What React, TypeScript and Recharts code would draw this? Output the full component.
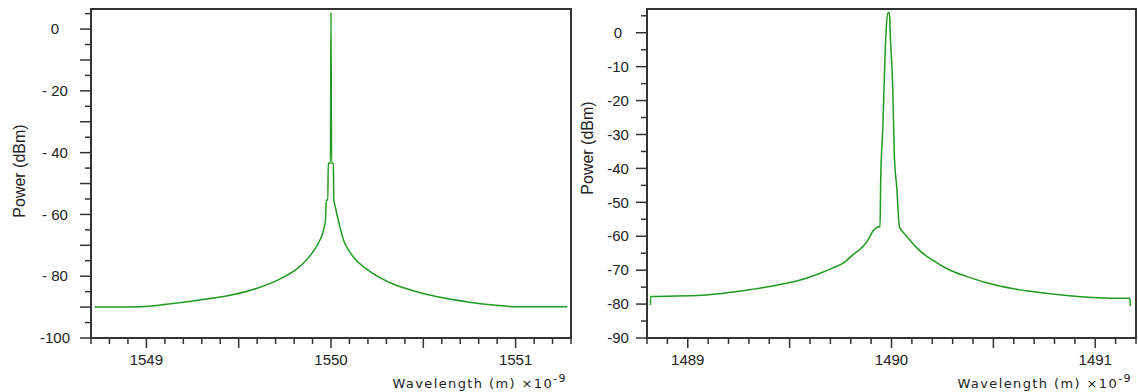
import * as React from "react";
import { LineChart, Line, XAxis, YAxis, ReferenceArea } from "recharts";

// Left spectrum (1550 nm)
const leftWavelength = [
  1548.72, 1548.85, 1548.97, 1549.11, 1549.28, 1549.46, 1549.6, 1549.73,
  1549.82, 1549.89, 1549.94, 1549.96, 1549.97, 1549.975, 1549.983, 1549.985,
  1549.997, 1550.0, 1550.003, 1550.013, 1550.015, 1550.025, 1550.04, 1550.07,
  1550.085, 1550.12, 1550.175, 1550.21, 1550.27, 1550.34, 1550.44, 1550.57,
  1550.75, 1550.88, 1551.0, 1551.28,
];
const leftPower = [
  -90.0, -90.0, -89.9, -89.1, -87.8, -86.1, -83.9, -80.7,
  -77.4, -73.1, -68.3, -65.0, -61.8, -55.3, -55.3, -43.4,
  -43.4, 5.4, -43.4, -43.4, -55.0, -58.0, -62.0, -68.6,
  -70.5, -73.7, -76.9, -78.4, -80.6, -82.6, -84.6, -86.6,
  -88.4, -89.3, -89.9, -89.9,
];

// Right spectrum (1490 nm)
const rightWavelength = [
  1488.817, 1488.818, 1489.07, 1489.31, 1489.49, 1489.57, 1489.65, 1489.71,
  1489.77, 1489.81, 1489.85, 1489.88, 1489.91, 1489.94, 1489.944, 1489.947,
  1489.958, 1489.968, 1489.982, 1489.99, 1489.993, 1490.006, 1490.014, 1490.026,
  1490.039, 1490.06, 1490.09, 1490.13, 1490.2, 1490.28, 1490.37, 1490.53,
  1490.69, 1490.86, 1491.08, 1491.17, 1491.172,
];
const rightPower = [
  -80.3, -77.8, -77.4, -75.7, -73.8, -72.6, -70.9, -69.4,
  -67.6, -65.5, -63.6, -61.6, -58.4, -57.2, -57.2, -43.4,
  -27.1, -7.0, 5.8, 6.0, 0.9, -16.3, -36.0, -45.8,
  -57.2, -59.0, -61.1, -63.8, -67.0, -69.8, -71.9, -74.7,
  -76.3, -77.5, -78.3, -78.3, -80.6,
];

const leftXDomain: [number, number] = [1548.7, 1551.3];
const leftYDomain: [number, number] = [-100, 6.5];
const rightXDomain: [number, number] = [1488.8, 1491.2];
const rightYDomain: [number, number] = [-90, 7];

const leftXLabels = [1549, 1550, 1551];
const rightXLabels = [1489, 1490, 1491];
const leftYLabels = [0, -20, -40, -60, -80, -100];
const rightYLabels = [0, -10, -20, -30, -40, -50, -60, -70, -80, -90];

const FONT = "'Liberation Sans', Arial, sans-serif";
const AXIS = "#333";
const GREEN = "#1f9a1f";

// tick positions (minor ticks every step)
const steps = (from: number, to: number, step: number) => {
  const out: number[] = [];
  const n = Math.round((to - from) / step);
  for (let i = 0; i <= n; i++) out.push(Math.round((from + i * step) * 1000) / 1000);
  return out;
};

const near = (a: number, b: number) => Math.abs(a - b) < 1e-6;

const makeXTick = (labels: number[]) => (props: any) => {
  const { x, y, payload } = props;
  const v = payload.value;
  const long = near(v * 2, Math.round(v * 2));
  const labeled = labels.some((l) => near(l, v));
  return (
    <g>
      <line x1={x} x2={x} y1={y} y2={y + (long ? 10 : 6)} stroke={AXIS} strokeWidth={1.5} />
      {labeled && (
        <text x={x} y={y + 27} textAnchor="middle" fontSize={15} fontFamily={FONT} fill="#222">
          {v}
        </text>
      )}
    </g>
  );
};

const makeYTick = (labels: number[], longEvery: number, labelX: number, fmt: (v: number) => string) =>
  (props: any) => {
    const { x, y, payload } = props;
    const v = payload.value;
    const long = near(v / longEvery, Math.round(v / longEvery));
    const labeled = labels.some((l) => near(l, v));
    return (
      <g>
        <line x1={x - (long ? 11 : 6)} x2={x} y1={y} y2={y} stroke={AXIS} strokeWidth={1.5} />
        {labeled && (
          <text x={x - labelX} y={y} dy="0.35em" textAnchor="middle" fontSize={15} fontFamily={FONT} fill="#222">
            {fmt(v)}
          </text>
        )}
      </g>
    );
  };

const leftData = leftWavelength.map((w, i) => ({ w, p: leftPower[i] }));
const rightData = rightWavelength.map((w, i) => ({ w, p: rightPower[i] }));

interface PanelProps {
  data: { w: number; p: number }[];
  width: number;
  yAxisWidth: number;
  rightMargin: number;
  xDomain: [number, number];
  yDomain: [number, number];
  xTicks: number[];
  yTicks: number[];
  xTick: (p: any) => React.ReactElement;
  yTick: (p: any) => React.ReactElement;
}

const Panel: React.FC<PanelProps> = ({
  data, width, yAxisWidth, rightMargin, xDomain, yDomain, xTicks, yTicks, xTick, yTick,
}) => (
  <LineChart width={width} height={392} data={data} margin={{ top: 9, right: rightMargin, left: 0, bottom: 0 }}>
    <XAxis
      dataKey="w"
      type="number"
      domain={xDomain}
      ticks={xTicks}
      interval={0}
      allowDataOverflow
      axisLine={false}
      tickLine={false}
      tickSize={0}
      tickMargin={0}
      height={54}
      tick={xTick}
    />
    <YAxis
      type="number"
      domain={yDomain}
      ticks={yTicks}
      interval={0}
      allowDataOverflow
      axisLine={false}
      tickLine={false}
      tickSize={0}
      tickMargin={0}
      width={yAxisWidth}
      tick={yTick}
    />
    <ReferenceArea
      x1={xDomain[0]}
      x2={xDomain[1]}
      y1={yDomain[0]}
      y2={yDomain[1]}
      fill="none"
      stroke={AXIS}
      strokeWidth={2}
    />
    <Line
      type="monotone"
      dataKey="p"
      stroke={GREEN}
      strokeWidth={1.5}
      dot={false}
      isAnimationActive={false}
    />
  </LineChart>
);

const WaveLabel: React.FC<{ x: number }> = ({ x }) => (
  <text x={x} y={388} textAnchor="end" fontSize={13} fontFamily="'DejaVu Sans', sans-serif" letterSpacing={1.4} fill="#222">
    Wavelength (m) ×10
    <tspan dy={-6} fontSize={11}>-9</tspan>
  </text>
);

export default function App() {
  return (
    <div style={{ position: "absolute", left: 0, top: 0, width: 1138, height: 392, background: "#fff" }}>
      <div style={{ position: "absolute", left: 0, top: 0 }}>
        <Panel
          data={leftData}
          width={575}
          yAxisWidth={91}
          rightMargin={4}
          xDomain={leftXDomain}
          yDomain={leftYDomain}
          xTicks={steps(1548.7, 1551.3, 0.1)}
          yTicks={steps(-100, 5, 5)}
          xTick={makeXTick(leftXLabels)}
          yTick={makeYTick(leftYLabels, 10, 36, (v) => (v === 0 ? "0" : v === -100 ? "-100" : `- ${Math.abs(v)}`))}
        />
      </div>
      <div style={{ position: "absolute", left: 575, top: 0 }}>
        <Panel
          data={rightData}
          width={563}
          yAxisWidth={72}
          rightMargin={2}
          xDomain={rightXDomain}
          yDomain={rightYDomain}
          xTicks={steps(1488.8, 1491.2, 0.1)}
          yTicks={steps(-90, 5, 5)}
          xTick={makeXTick(rightXLabels)}
          yTick={makeYTick(rightYLabels, 10, 29, (v) => (v === 0 ? "0" : `-${Math.abs(v)}`))}
        />
      </div>
      <svg width={1138} height={392} style={{ position: "absolute", left: 0, top: 0, pointerEvents: "none" }}>
        <text
          transform="translate(25,171) rotate(-90)"
          textAnchor="middle"
          fontSize={16}
          fontFamily={FONT}
          fill="#222"
        >
          Power (dBm)
        </text>
        <text
          transform="translate(593,148) rotate(-90)"
          textAnchor="middle"
          fontSize={16}
          fontFamily={FONT}
          fill="#222"
        >
          Power (dBm)
        </text>
        <WaveLabel x={567} />
        <WaveLabel x={1132} />
      </svg>
    </div>
  );
}
